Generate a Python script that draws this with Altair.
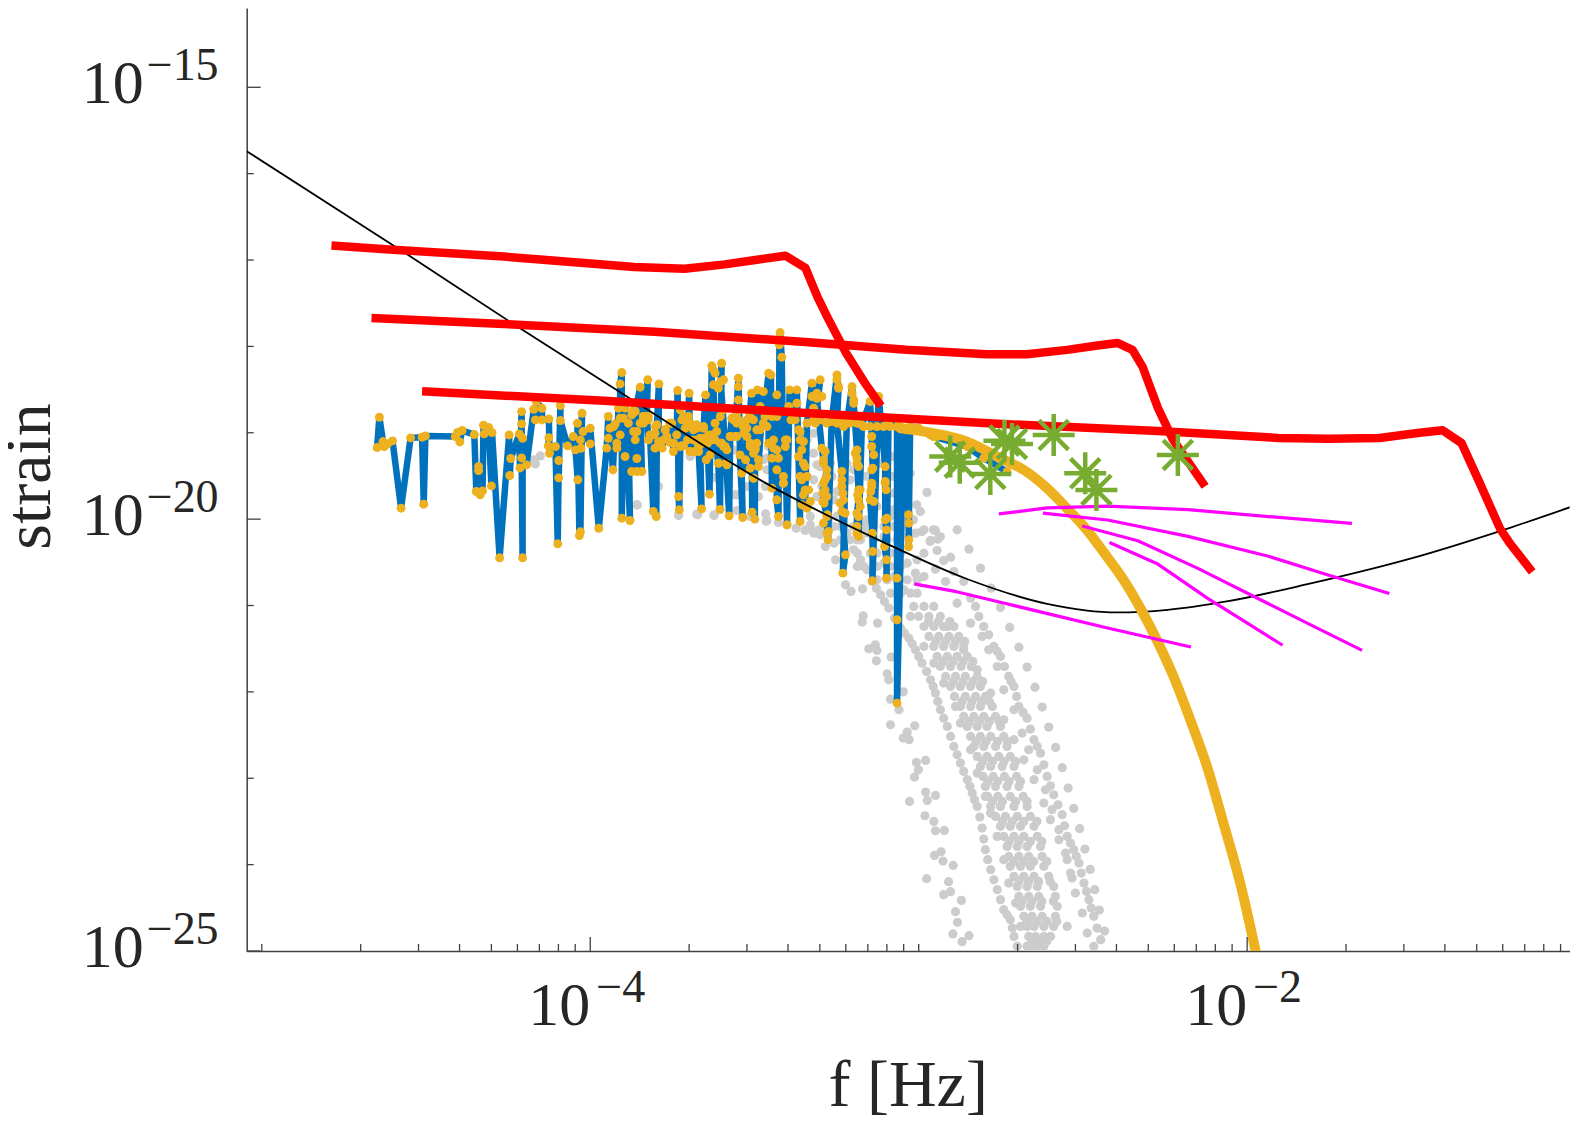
import altair as alt
import pandas as pd

# all curves as (log10 f, log10 strain)
main_points = [
    (-4.649,-19.171),(-4.642,-18.820),(-4.631,-19.102),(-4.627,-19.160),(-4.617,-19.129),(-4.602,-19.094),
    (-4.576,-19.873),(-4.547,-19.059),(-4.512,-19.051),(-4.507,-19.827),(-4.502,-19.036),(-4.411,-19.044),
    (-4.404,-18.997),(-4.397,-19.106),(-4.390,-18.974),(-4.353,-19.021),(-4.347,-19.680),(-4.340,-19.391),
    (-4.340,-19.437),(-4.335,-19.719),(-4.328,-19.673),(-4.325,-18.913),(-4.323,-19.013),(-4.309,-18.940),
    (-4.301,-19.615),(-4.299,-18.998),(-4.276,-20.448),(-4.247,-19.025),(-4.245,-19.495),(-4.242,-19.298),
    (-4.216,-19.013),(-4.214,-19.407),(-4.209,-18.755),(-4.209,-18.897),(-4.209,-19.291),(-4.206,-20.448),
    (-4.206,-19.063),(-4.194,-19.372),(-4.172,-18.728),(-4.167,-18.851),(-4.164,-18.639),(-4.147,-18.716),
    (-4.147,-18.851),(-4.126,-18.840),(-4.124,-19.237),(-4.126,-19.056),(-4.128,-19.152),(-4.106,-19.160),
    (-4.099,-20.286),(-4.096,-19.322),(-4.096,-19.522),(-4.091,-18.685),(-4.091,-18.859),(-4.069,-19.152),
    (-4.052,-19.044),(-4.045,-19.198),(-4.038,-19.545),(-4.039,-18.890),(-4.033,-20.190),(-4.030,-20.147),
    (-4.025,-18.774),(-4.030,-19.083),(-4.028,-19.179),(-4.022,-18.986),(-4.000,-19.129),(-4.000,-18.948),
    (-3.974,-20.105),(-3.950,-19.178),(-3.945,-18.812),(-3.945,-19.063),(-3.940,-18.947),(-3.931,-19.429),
    (-3.924,-18.897),(-3.919,-19.121),(-3.914,-18.715),(-3.919,-19.178),(-3.909,-19.024),(-3.909,-18.434),
    (-3.904,-18.303),(-3.904,-19.989),(-3.899,-18.831),(-3.894,-19.275),(-3.894,-18.715),(-3.879,-20.016),
    (-3.884,-18.889),(-3.874,-19.448),(-3.874,-18.793),(-3.868,-18.985),(-3.863,-19.082),(-3.858,-19.298),
    (-3.858,-19.448),(-3.863,-18.754),(-3.848,-18.472),(-3.843,-19.448),(-3.848,-18.889),(-3.838,-18.812),
    (-3.825,-18.387),(-3.828,-18.812),(-3.823,-19.082),(-3.818,-19.024),(-3.808,-19.911),(-3.803,-19.178),
    (-3.799,-19.969),(-3.797,-18.908),(-3.791,-18.434),(-3.792,-19.101),(-3.781,-19.178),(-3.772,-18.966),
    (-3.767,-19.043),(-3.757,-19.113),(-3.752,-18.889),(-3.747,-19.217),(-3.737,-19.024),(-3.734,-18.511),
    (-3.731,-19.738),(-3.729,-19.892),(-3.726,-19.159),(-3.721,-18.850),(-3.716,-19.151),(-3.711,-18.947),
    (-3.704,-19.082),(-3.701,-18.812),(-3.699,-18.542),(-3.696,-19.217),(-3.686,-18.966),(-3.681,-19.217),
    (-3.676,-18.908),(-3.671,-19.140),(-3.661,-19.881),(-3.666,-19.063),(-3.655,-18.947),(-3.649,-18.561),
    (-3.647,-19.313),(-3.643,-19.121),(-3.637,-19.711),(-3.635,-19.256),(-3.630,-18.225),(-3.630,-19.024),
    (-3.625,-18.445),(-3.620,-19.082),(-3.610,-19.352),(-3.605,-19.888),(-3.600,-18.195),(-3.603,-18.407),
    (-3.589,-19.159),(-3.586,-19.352),(-3.577,-19.962),(-3.574,-19.043),(-3.569,-18.831),(-3.559,-19.043),
    (-3.549,-18.368),(-3.544,-19.256),(-3.536,-19.981),(-3.539,-19.468),(-3.527,-19.313),(-3.523,-18.947),
    (-3.515,-18.812),(-3.509,-18.542),(-3.507,-19.919),(-3.503,-19.526),(-3.499,-20.000),(-3.498,-19.198),
    (-3.491,-18.503),(-3.488,-19.391),(-3.473,-18.522),(-3.473,-18.889),(-3.457,-18.310),(-3.457,-19.121),
    (-3.450,-18.330),(-3.447,-19.641),(-3.442,-19.178),(-3.432,-18.561),(-3.432,-19.776),(-3.427,-19.969),
    (-3.424,-17.982),(-3.422,-17.840),(-3.417,-18.125),(-3.412,-19.583),(-3.406,-19.082),(-3.401,-20.066),
    (-3.393,-18.503),(-3.389,-18.850),(-3.371,-18.503),(-3.361,-20.027),(-3.366,-18.966),(-3.361,-19.082),
    (-3.356,-19.198),(-3.351,-19.352),(-3.361,-19.506),(-3.346,-19.661),(-3.346,-19.853),(-3.340,-18.889),
    (-3.325,-18.426),(-3.320,-18.715),(-3.315,-18.889),(-3.300,-18.387),(-3.310,-18.600),(-3.295,-19.178),
    (-3.290,-19.313),(-3.280,-19.429),(-3.285,-19.545),(-3.292,-19.699),(-3.288,-19.815),(-3.280,-19.969),
    (-3.279,-20.162),(-3.276,-20.239),(-3.265,-18.870),(-3.249,-18.330),(-3.244,-18.484),(-3.249,-18.889),
    (-3.234,-19.448),(-3.234,-19.622),(-3.229,-19.776),(-3.234,-19.911),(-3.223,-20.413),(-3.231,-20.625),
    (-3.219,-18.889),(-3.203,-18.465),(-3.198,-18.658),(-3.188,-19.198),(-3.188,-19.352),(-3.183,-19.661),
    (-3.183,-19.776),(-3.188,-19.931),(-3.188,-20.085),(-3.183,-20.201),(-3.173,-18.908),(-3.148,-18.638),
    (-3.143,-19.043),(-3.140,-19.410),(-3.143,-19.622),(-3.148,-19.776),(-3.141,-20.162),(-3.140,-20.375),
    (-3.141,-20.714),(-3.122,-18.580),(-3.102,-19.391),(-3.102,-19.583),(-3.102,-20.008),(-3.098,-20.124),
    (-3.104,-20.317),(-3.098,-20.471),(-3.098,-20.683),(-3.092,-18.889),(-3.066,-18.928),(-3.066,-20.683),
    (-3.066,-21.165),(-3.066,-22.130),(-3.046,-18.947),(-3.031,-19.950),(-3.030,-20.047),(-3.030,-20.239),
    (-3.031,-20.320),(-3.026,-18.928),(-3.000,-18.947),(-2.970,-19.005),(-2.955,-19.043),(-2.853,-19.160),
    (-2.802,-19.295),(-2.731,-19.450),
]

# yellow dots that crowd the spikes between 1e-4 and 1e-3
yellow_extra = [
    (-3.929,-18.928),(-3.909,-18.831),(-3.868,-18.735),(-3.858,-18.985),(-3.838,-18.889),(-3.823,-18.812),
    (-3.803,-19.005),(-3.777,-19.082),(-3.757,-18.889),(-3.726,-18.735),(-3.716,-18.812),(-3.696,-18.889),
    (-3.686,-19.082),(-3.666,-19.140),(-3.635,-19.082),(-3.615,-18.985),(-3.600,-19.120),(-3.584,-19.198),
    (-3.564,-18.850),(-3.554,-18.889),(-3.523,-19.043),(-3.513,-19.159),(-3.503,-19.236),(-3.493,-19.120),
    (-3.483,-18.966),(-3.468,-18.812),(-3.534,-18.928),(-3.594,-18.387),(-3.620,-18.310),(-3.610,-18.484),
    (-3.625,-18.272),
    (-3.838,-18.812),(-3.823,-18.850),(-3.802,-18.928),(-3.787,-19.120),(-3.807,-19.024),(-3.772,-18.966),
    (-3.757,-18.889),(-3.746,-19.120),(-3.721,-19.151),(-3.696,-19.217),(-3.670,-19.217),(-3.716,-18.850),
    (-3.696,-18.928),(-3.675,-18.947),(-3.655,-18.928),(-3.640,-19.024),(-3.660,-19.063),(-3.630,-19.082),
    (-3.604,-19.120),(-3.594,-19.159),(-3.609,-19.352),(-3.584,-19.371),(-3.620,-18.889),(-3.604,-18.812),
    (-3.594,-18.735),(-3.574,-19.043),(-3.554,-19.043),(-3.533,-19.005),(-3.523,-18.850),(-3.503,-18.850),
    (-3.493,-18.966),(-3.513,-19.120),(-3.498,-19.178),(-3.488,-19.313),(-3.513,-19.410),(-3.503,-19.526),
    (-3.533,-18.928),(-3.549,-18.850),(-3.554,-18.773),(-3.549,-18.619),(-3.549,-18.465),(-3.483,-18.696),
    (-3.467,-18.773),(-3.447,-18.812),(-3.432,-18.812),(-3.462,-18.928),(-3.442,-19.082),(-3.432,-19.198),
    (-3.447,-19.294),(-3.427,-19.294),(-3.432,-19.429),(-3.412,-19.506),(-3.412,-19.583),(-3.406,-19.159),
    (-3.401,-19.082),(-3.376,-18.850),(-3.371,-18.658),(-3.396,-18.696),(-3.361,-18.985),(-3.351,-19.101),
    (-3.366,-19.275),(-3.346,-19.391),(-3.340,-19.506),(-3.356,-19.545),(-3.335,-19.661),(-3.351,-19.718),
    (-3.330,-19.796),(-3.340,-19.873),(-3.356,-19.834),(-3.285,-19.217),(-3.290,-19.352),(-3.280,-19.506),
    (-3.285,-19.661),(-3.290,-19.583),(-3.280,-19.738),(-3.292,-19.796),(-3.278,-19.950),(-3.290,-20.046),
    (-3.275,-20.143),(-3.234,-19.545),(-3.231,-19.699),(-3.239,-19.815),(-3.224,-19.931),(-3.193,-19.236),
    (-3.188,-19.294),(-3.183,-19.391),(-3.178,-19.661),(-3.186,-19.718),(-3.178,-19.853),(-3.183,-19.969),
    (-3.188,-20.162),(-3.143,-19.159),(-3.137,-19.255),(-3.143,-19.429),(-3.143,-19.583),(-3.146,-19.680),
    (-3.137,-19.796),(-3.102,-19.564),(-3.099,-19.661),(-3.097,-19.989),(-3.320,-18.850),(-3.300,-18.850),
    (-3.280,-18.889),(-3.259,-18.850),(-3.239,-18.850),(-3.229,-18.928),(-3.209,-18.889),(-3.188,-18.889),
    (-3.168,-18.928),(-3.148,-18.928),(-3.127,-18.928),(-3.107,-18.928),(-3.087,-18.928),(-3.056,-18.928),
    (-3.036,-18.966),(-3.016,-18.947),(-2.985,-18.985),(-2.965,-19.024),(-2.945,-19.043),(-3.325,-18.580),
    (-3.310,-18.542),(-3.249,-18.387),(-3.244,-18.465),(-3.203,-18.542),(-3.198,-18.619),(-3.295,-18.580),
]

gray_points = [
    # under the spikes
    (-4.172,-19.314),(-4.152,-19.268),(-4.167,-19.360),(-3.857,-19.835),(-3.858,-19.834),(-3.792,-19.622),
    (-3.731,-19.950),(-3.696,-19.275),(-3.676,-19.942),(-3.623,-19.950),(-3.620,-19.518),(-3.564,-19.198),
    (-3.559,-19.718),(-3.554,-19.900),(-3.523,-19.622),(-3.488,-19.738),(-3.473,-19.313),(-3.466,-19.938),
    (-3.462,-20.016),(-3.462,-19.429),(-3.457,-19.159),(-3.731,-19.958),(-3.673,-19.950),(-3.623,-19.958),
    (-3.554,-19.718),(-3.543,-19.371),(-3.464,-20.023),(-3.513,-19.969),(-3.427,-20.039),(-3.401,-20.066),
    (-3.373,-20.104),(-3.346,-20.131),(-3.320,-20.147),(-3.300,-20.181),(-3.275,-20.008),(-3.249,-19.969),
    (-3.320,-19.005),(-3.310,-19.371),(-3.320,-19.545),(-3.295,-19.622),(-3.264,-19.506),(-3.462,-19.294),
    (-3.467,-19.622),(-3.543,-19.275),(-3.249,-19.680),(-3.239,-20.085),(-3.178,-20.104),(-3.137,-20.046),
    (-3.087,-19.969),(-3.031,-20.201),(-3.066,-20.104),(-3.056,-20.162),(-3.006,-19.834),(-2.975,-19.691),
    (-2.995,-19.911),(-2.990,-20.143),(-2.955,-20.124),(-2.965,-20.259),(-2.934,-20.201),(-3.330,-19.969),
    (-3.310,-19.738),(-3.137,-19.545),(-3.077,-19.699),(-3.198,-19.429),(-3.137,-19.313),(-3.026,-19.468),
    (-3.077,-19.275),(-3.345,-20.124),(-3.319,-20.162),(-3.289,-20.047),(-3.284,-20.317),(-3.253,-20.471),
    (-3.330,-20.066),(-3.304,-20.124),(-3.258,-20.278),(-3.208,-20.239),(-3.198,-20.355),(-3.177,-20.471),
    (-3.157,-20.587),(-3.106,-20.510),(-3.076,-20.664),(-3.045,-20.818),(-3.157,-20.162),(-3.106,-20.201),
    (-3.055,-20.394),(-3.035,-20.510),(-3.005,-20.471),(-3.010,-20.162),(-2.984,-20.124),
    (-3.258,-20.085),(-3.228,-20.085),(-3.198,-20.085),(-3.167,-20.085),(-3.137,-20.085),(-3.106,-20.085),
    (-3.076,-20.085),(-3.045,-20.085),(-3.238,-20.239),(-3.177,-20.239),(-3.137,-20.239),(-3.096,-20.239),
    (-3.066,-20.239),(-3.228,-20.394),(-3.187,-20.394),(-3.147,-20.394),(-3.127,-20.394),(-3.086,-20.394),
    (-3.187,-20.548),(-3.167,-20.548),(-3.127,-20.548),(-3.086,-20.548),(-3.055,-20.548),(-3.127,-20.702),
    (-3.096,-20.702),(-3.066,-20.702),(-3.035,-20.702),(-3.005,-20.702),(-3.086,-20.857),(-3.055,-20.857),
    (-3.025,-20.857),(-3.005,-20.857),
    (-3.340,-19.082),(-3.320,-19.236),(-3.300,-19.391),(-3.269,-19.352),(-3.259,-19.776),(-3.219,-19.352),
    (-3.209,-19.545),(-3.158,-19.506),(-3.117,-19.352),(-3.077,-19.506),(-3.056,-19.661),(-3.127,-19.853),
    (-3.077,-19.892),(-3.036,-19.776),(-3.016,-20.008),(-3.158,-20.008),(-3.219,-20.162),(-3.188,-20.239),
    # scattered on the left of the bands
    (-3.223,-20.760),(-3.206,-20.837),(-3.171,-20.807),(-3.169,-21.119),(-3.172,-21.192),(-3.125,-21.204),
    (-3.152,-21.501),(-3.132,-21.455),(-3.127,-21.520),(-3.129,-21.640),(-3.084,-21.597),(-3.096,-21.790),
    (-3.091,-21.860),(-3.086,-22.084),(-3.047,-21.999),(-3.060,-22.207),(-3.086,-22.381),(-3.012,-22.392),
    (-3.035,-22.466),(-3.047,-22.535),(-3.029,-22.554),(-3.007,-22.817),(-2.979,-22.794),(-3.001,-22.902),
    (-3.013,-22.986),(-2.979,-23.160),(-2.949,-23.199),(-2.974,-23.256),(-3.028,-23.268),(-2.981,-23.434),
    (-2.954,-23.500),(-2.949,-23.608),(-2.922,-23.604),(-2.932,-23.851),(-2.952,-23.893),(-2.926,-23.959),
    (-2.895,-24.009),(-2.976,-24.163),(-2.909,-24.198),(-2.903,-24.313),(-2.924,-24.348),(-2.870,-24.414),
    (-2.888,-24.545),(-2.882,-24.668),(-2.896,-24.803),(-2.847,-24.823),(-2.868,-24.892),
    # outermost right row
    (-2.883,-20.124),(-2.847,-20.348),(-2.812,-20.567),(-2.779,-20.799),(-2.751,-21.023),(-2.723,-21.254),
    (-2.695,-21.482),(-2.670,-21.713),(-2.646,-21.945),(-2.624,-22.176),(-2.604,-22.408),(-2.583,-22.643),
    (-2.563,-22.878),(-2.545,-23.114),(-2.528,-23.349),(-2.510,-23.584),(-2.494,-23.820),(-2.478,-24.055),
    (-2.464,-24.290),(-2.450,-24.526),(-2.434,-24.769),
    (-2.949,-20.131),(-2.942,-20.232),(-2.964,-20.247),(-2.944,-20.363),(-2.984,-20.394),(-2.903,-20.440),
    (-2.924,-20.479),(-2.893,-20.606),(-2.863,-20.722),(-2.949,-20.579),(-2.918,-20.722),(-3.010,-20.625),
    (-2.984,-20.664),
    # right edge rows
    (-2.842,-20.915),(-2.817,-21.127),(-2.787,-21.339),(-2.771,-21.474),(-2.751,-21.590),(-2.726,-21.821),
    (-2.710,-21.937),(-2.695,-22.168),(-2.670,-22.304),(-2.649,-22.554),(-2.629,-22.709),(-2.609,-22.979),
    (-2.589,-23.191),(-2.563,-23.422),(-2.548,-23.673),(-2.528,-23.827),(-2.512,-23.982),(-2.497,-24.213),
    (-2.482,-24.406),(-2.467,-24.599),(-2.446,-24.869),
    (-2.827,-21.011),(-2.802,-21.243),(-2.761,-21.532),(-2.739,-21.706),(-2.719,-21.879),(-2.702,-22.053),
    (-2.682,-22.238),(-2.660,-22.431),(-2.639,-22.631),(-2.619,-22.844),(-2.599,-23.087),(-2.576,-23.307),
    (-2.556,-23.550),(-2.538,-23.750),(-2.520,-23.905),(-2.505,-24.098),(-2.489,-24.310),(-2.475,-24.503),
    (-2.457,-24.734),
    (-2.883,-20.973),(-2.842,-21.204),(-2.807,-21.358),(-2.787,-21.513),(-2.761,-21.706),(-2.741,-21.976),
    (-2.710,-22.207),(-2.685,-22.477),(-2.665,-22.670),(-2.639,-22.902),(-2.614,-23.133),(-2.594,-23.364),
    (-2.573,-23.596),(-2.553,-23.866),(-2.538,-24.098),(-2.523,-24.329),(-2.502,-24.560),(-2.487,-24.792),
    (-2.467,-24.946),
    (-2.913,-21.243),(-2.863,-21.513),(-2.822,-21.744),(-2.781,-22.014),(-2.741,-22.323),(-2.710,-22.554),
    (-2.680,-22.786),(-2.649,-23.017),(-2.619,-23.287),(-2.599,-23.480),(-2.573,-23.712),(-2.548,-23.943),
    (-2.533,-24.155),
    # left edge rows
    (-3.142,-20.722),(-3.116,-20.876),(-3.091,-21.030),(-3.055,-21.262),(-3.030,-21.378),(-3.010,-21.513),
    (-2.990,-21.667),(-2.964,-21.860),(-2.949,-22.014),(-2.934,-22.207),(-2.913,-22.400),(-2.893,-22.631),
    (-2.873,-22.824),(-2.852,-23.017),(-2.837,-23.172),(-2.822,-23.326),(-2.807,-23.577),(-2.797,-23.827),
    (-2.781,-24.059),(-2.761,-24.290),(-2.741,-24.522),(-2.721,-24.638),(-2.710,-24.831),(-2.700,-24.946),
    (-3.129,-20.799),(-3.104,-20.953),(-3.074,-21.146),(-3.043,-21.320),(-3.020,-21.443),(-3.000,-21.590),
    (-2.976,-21.763),(-2.956,-21.937),(-2.942,-22.111),(-2.924,-22.304),(-2.903,-22.516),(-2.883,-22.728),
    (-2.863,-22.921),(-2.844,-23.094),(-2.830,-23.249),(-2.814,-23.449),(-2.802,-23.704),(-2.790,-23.943),
    (-2.771,-24.175),(-2.751,-24.406),(-2.731,-24.580),(-2.715,-24.734),
    (-2.984,-21.474),(-2.954,-21.667),(-2.924,-21.898),(-2.888,-22.168),(-2.873,-22.361),(-2.842,-22.670),
    (-2.822,-22.940),(-2.797,-23.210),(-2.781,-23.403),(-2.761,-23.673),(-2.741,-23.943),(-2.726,-24.213),
    (-2.705,-24.445),(-2.690,-24.715),(-2.670,-24.946),
    # dense middle of the band
    (-3.015,-21.011),(-2.984,-21.011),(-2.954,-21.011),(-3.025,-21.127),(-3.000,-21.127),(-2.969,-21.127),
    (-2.934,-21.127),(-2.984,-21.243),(-2.954,-21.243),(-2.924,-21.243),(-2.893,-21.243),(-2.969,-21.358),
    (-2.939,-21.358),(-2.908,-21.358),(-2.878,-21.358),(-2.954,-21.474),(-2.924,-21.474),(-2.893,-21.474),
    (-2.863,-21.474),(-2.944,-21.590),(-2.913,-21.590),(-2.883,-21.590),(-2.852,-21.590),(-2.934,-21.706),
    (-2.903,-21.706),(-2.871,-21.706),(-2.840,-21.706),(-2.918,-21.821),(-2.888,-21.821),(-2.858,-21.821),
    (-2.822,-21.821),(-2.903,-21.937),(-2.873,-21.937),(-2.842,-21.937),(-2.812,-21.937),(-2.891,-22.053),
    (-2.858,-22.053),(-2.827,-22.053),(-2.797,-22.053),(-2.873,-22.168),(-2.842,-22.168),(-2.812,-22.168),
    (-2.776,-22.168),(-2.863,-22.284),(-2.832,-22.284),(-2.802,-22.284),(-2.766,-22.284),(-2.852,-22.400),
    (-2.822,-22.400),(-2.792,-22.400),(-2.751,-22.400),(-2.842,-22.516),(-2.812,-22.516),(-2.781,-22.516),
    (-2.741,-22.516),(-2.832,-22.631),(-2.802,-22.631),(-2.766,-22.631),(-2.731,-22.631),(-2.822,-22.747),
    (-2.792,-22.747),(-2.756,-22.747),(-2.721,-22.747),(-2.812,-22.863),(-2.781,-22.863),(-2.746,-22.863),
    (-2.710,-22.863),(-2.804,-22.979),(-2.773,-22.979),(-2.739,-22.979),(-2.702,-22.979),(-2.797,-23.094),
    (-2.766,-23.094),(-2.731,-23.094),(-2.695,-23.094),(-2.790,-23.210),(-2.759,-23.210),(-2.721,-23.210),
    (-2.682,-23.210),(-2.781,-23.326),(-2.751,-23.326),(-2.710,-23.326),(-2.670,-23.326),(-2.766,-23.442),
    (-2.736,-23.442),(-2.700,-23.442),(-2.660,-23.442),(-2.751,-23.557),(-2.721,-23.557),(-2.690,-23.557),
    (-2.649,-23.557),(-2.741,-23.673),(-2.710,-23.673),(-2.680,-23.673),(-2.639,-23.673),(-2.731,-23.789),
    (-2.700,-23.789),(-2.670,-23.789),(-2.629,-23.789),(-2.726,-23.905),(-2.695,-23.905),(-2.665,-23.905),
    (-2.624,-23.905),(-2.721,-24.020),(-2.690,-24.020),(-2.660,-24.020),(-2.619,-24.020),(-2.710,-24.136),
    (-2.680,-24.136),(-2.649,-24.136),(-2.604,-24.136),(-2.700,-24.252),(-2.670,-24.252),(-2.639,-24.252),
    (-2.589,-24.252),(-2.695,-24.368),(-2.665,-24.368),(-2.634,-24.368),(-2.584,-24.368),(-2.690,-24.483),
    (-2.660,-24.483),(-2.629,-24.483),(-2.578,-24.483),(-2.680,-24.599),(-2.655,-24.599),(-2.624,-24.599),
    (-2.584,-24.599),(-2.670,-24.715),(-2.649,-24.715),(-2.619,-24.715),(-2.589,-24.715),(-2.548,-24.715),
    (-2.665,-24.831),(-2.644,-24.831),(-2.619,-24.831),(-2.599,-24.831),(-2.660,-24.946),(-2.639,-24.946),
    (-2.619,-24.946),
    (-2.970,-21.185),(-2.940,-21.185),(-2.905,-21.185),(-2.948,-21.416),(-2.918,-21.416),(-2.888,-21.416),
    (-2.860,-21.416),(-2.925,-21.648),(-2.895,-21.648),(-2.865,-21.648),(-2.835,-21.648),(-2.895,-21.879),
    (-2.865,-21.879),(-2.835,-21.879),(-2.805,-21.879),(-2.868,-22.111),(-2.838,-22.111),(-2.808,-22.111),
    (-2.785,-22.111),(-2.845,-22.342),(-2.815,-22.342),(-2.785,-22.342),(-2.755,-22.342),(-2.825,-22.574),
    (-2.795,-22.574),(-2.760,-22.574),(-2.730,-22.574),(-2.805,-22.805),(-2.775,-22.805),(-2.740,-22.805),
    (-2.705,-22.805),(-2.790,-23.037),(-2.760,-23.037),(-2.725,-23.037),(-2.690,-23.037),(-2.775,-23.268),
    (-2.745,-23.268),(-2.705,-23.268),(-2.670,-23.268),(-2.745,-23.500),(-2.715,-23.500),(-2.680,-23.500),
    (-2.640,-23.500),(-2.725,-23.731),(-2.695,-23.731),(-2.660,-23.731),(-2.625,-23.731),(-2.710,-23.963),
    (-2.680,-23.963),(-2.650,-23.963),(-2.610,-23.963),(-2.695,-24.194),(-2.665,-24.194),(-2.635,-24.194),
    (-2.600,-24.194),(-2.685,-24.425),(-2.655,-24.425),(-2.625,-24.425),(-2.590,-24.425),(-2.670,-24.657),
    (-2.640,-24.657),(-2.610,-24.657),(-2.580,-24.657),(-2.655,-24.888),(-2.630,-24.888),(-2.610,-24.888),
]

yellow_curve = [
    (-3.056,-18.948),(-2.954,-19.006),(-2.853,-19.102),
    (-2.751,-19.295),(-2.680,-19.430),(-2.609,-19.643),(-2.549,-19.874),(-2.488,-20.125),(-2.427,-20.434),
    (-2.376,-20.704),(-2.325,-21.032),(-2.275,-21.399),(-2.224,-21.824),(-2.173,-22.325),(-2.122,-22.866),
    (-2.072,-23.522),(-2.021,-24.216),(-1.975,-24.988),
]

red_curves = [
    [(-4.788,-16.833),(-4.601,-16.880),(-4.264,-16.960),(-3.866,-17.080),(-3.713,-17.100),(-3.590,-17.050),
     (-3.498,-17.000),(-3.406,-16.950),(-3.345,-17.090),(-3.308,-17.430),(-3.277,-17.670),(-3.222,-18.070),
     (-3.161,-18.440),(-3.115,-18.690)],
    [(-4.666,-17.670),(-4.264,-17.740),(-3.804,-17.830),(-3.345,-17.950),(-3.038,-18.040),(-2.793,-18.090),
     (-2.671,-18.090),(-2.548,-18.040),(-2.456,-17.990),(-2.395,-17.960),(-2.349,-18.040),(-2.318,-18.240),
     (-2.272,-18.710),(-2.226,-19.080),(-2.128,-19.620)],
    [(-4.512,-18.520),(-3.958,-18.630),(-3.345,-18.770),(-2.732,-18.900),(-2.272,-18.980),(-1.905,-19.060),
     (-1.751,-19.070),(-1.597,-19.060),(-1.475,-19.000),(-1.405,-18.970),(-1.347,-19.120),(-1.292,-19.580),
     (-1.230,-20.110),(-1.200,-20.280),(-1.132,-20.610)],
]

black_curve = [
    (-5.046,-15.740),(-4.571,-16.900),(-4.234,-17.740),(-3.835,-18.710),(-3.467,-19.580),(-3.100,-20.280),
    (-2.855,-20.690),(-2.609,-20.980),(-2.395,-21.080),(-2.242,-21.050),(-2.058,-20.950),(-1.813,-20.750),
    (-1.506,-20.460),(-1.200,-20.100),(-1.000,-19.840),
]

magenta_curves = [
    [(-3.014,-20.750),(-2.885,-20.840),(-2.732,-20.980),(-2.579,-21.120),(-2.425,-21.260),(-2.171,-21.480)],
    [(-2.756,-19.940),(-2.609,-19.870),(-2.425,-19.850),(-2.180,-19.890),(-1.935,-19.970),(-1.681,-20.050)],
    [(-2.622,-19.930),(-2.425,-20.010),(-2.180,-20.200),(-1.935,-20.430),(-1.751,-20.650),(-1.567,-20.860)],
    [(-2.502,-20.080),(-2.333,-20.250),(-2.150,-20.570),(-1.935,-20.980),(-1.782,-21.270),(-1.650,-21.520)],
    [(-2.419,-20.270),(-2.272,-20.520),(-2.119,-20.920),(-1.997,-21.210),(-1.892,-21.460)],
]

green_stars = [
    (-2.904,-19.276),(-2.875,-19.346),(-2.782,-19.477),(-2.739,-19.091),(-2.716,-19.129),
    (-2.589,-19.025),(-2.493,-19.469),(-2.459,-19.662),(-2.211,-19.257),
]

x_major = [1e-4, 1e-2]
x_minor = [m * 10.0 ** k for k in (-5, -4, -3, -2) for m in (2, 3, 4, 5, 6, 7, 8, 9)] + [1e-5, 1e-3]
y_major = [1e-15, 1e-20, 1e-25]
y_minor = [1e-16, 1e-17, 1e-18, 1e-19, 1e-21, 1e-22, 1e-23, 1e-24]
x_exponents = ["−4", "−2"]
y_exponents = ["−15", "−20", "−25"]

AXIS_COLOR = "#404040"
TEXT_COLOR = "#262626"
FONT = "Liberation Serif"
WIDTH = 1323
HEIGHT = 943

x_scale = alt.Scale(type="log", domain=[10 ** -5.046, 10 ** -1.018], nice=False)
y_scale = alt.Scale(type="log", domain=[1e-25, 10 ** -14.082], nice=False)

x_axis = alt.Axis(
    title="f [Hz]", titleFont=FONT, titleFontSize=66, titleFontWeight="normal", titleColor=TEXT_COLOR,
    titleX=661, titleY=155, titleAlign="center", titleBaseline="alphabetic",
    labels=False, ticks=False, grid=False, domainColor=AXIS_COLOR, domainWidth=1.5,
)
y_axis = alt.Axis(
    title="strain", titleFont=FONT, titleFontSize=66, titleFontWeight="normal", titleColor=TEXT_COLOR,
    titleX=-197, titleY=468, titleAngle=270, titleAlign="center", titleBaseline="alphabetic",
    labels=False, ticks=False, grid=False, domainColor=AXIS_COLOR, domainWidth=1.5,
)
x_enc = alt.X("f:Q", scale=x_scale, axis=x_axis)
y_enc = alt.Y("h:Q", scale=y_scale, axis=y_axis)


def frame(points):
    return pd.DataFrame({
        "f": [10 ** p[0] for p in points],
        "h": [10 ** p[1] for p in points],
        "i": list(range(len(points))),
    })


def line(points, color, width, **kw):
    return alt.Chart(frame(points)).mark_line(
        color=color, strokeWidth=width, clip=True, strokeJoin="round", **kw
    ).encode(x=x_enc, y=y_enc, order="i:Q")


def dots(points, color, size):
    return alt.Chart(frame(points)).mark_circle(
        color=color, size=size, opacity=1, clip=True
    ).encode(x=x_enc, y=y_enc)


def x_ticks(values, length):
    return alt.Chart(pd.DataFrame({"f": values})).mark_rule(color=AXIS_COLOR, strokeWidth=1.3).encode(
        x=x_enc,
        y=alt.value(HEIGHT),
        y2=alt.value(HEIGHT - length),
    )


def y_ticks(values, length):
    return alt.Chart(pd.DataFrame({"h": values})).mark_rule(color=AXIS_COLOR, strokeWidth=1.3).encode(
        y=y_enc,
        x=alt.value(0),
        x2=alt.value(length),
    )


x_labels = pd.DataFrame({"f": x_major, "base": ["10"] * 2, "exp": x_exponents})
y_labels = pd.DataFrame({"h": y_major, "base": ["10"] * 3, "exp": y_exponents})

x_base = alt.Chart(x_labels).mark_text(
    font=FONT, fontSize=62, color=TEXT_COLOR, align="right", baseline="alphabetic"
).encode(x=x_enc, y=alt.value(HEIGHT + 74), text="base:N")
x_exp = alt.Chart(x_labels).mark_text(
    font=FONT, fontSize=46, color=TEXT_COLOR, align="left", baseline="alphabetic", dx=6
).encode(x=x_enc, y=alt.value(HEIGHT + 51), text="exp:N")
y_base = alt.Chart(y_labels).mark_text(
    font=FONT, fontSize=62, color=TEXT_COLOR, align="left", baseline="alphabetic", dy=16
).encode(y=y_enc, x=alt.value(-165), text="base:N")
y_exp = alt.Chart(y_labels).mark_text(
    font=FONT, fontSize=46, color=TEXT_COLOR, align="left", baseline="alphabetic", dy=-7
).encode(y=y_enc, x=alt.value(-100), text="exp:N")

STAR = "M-1,0L1,0M0,-1L0,1M-0.7,-0.7L0.7,0.7M-0.7,0.7L0.7,-0.7"
stars = alt.Chart(frame(green_stars)).mark_point(
    shape=STAR, size=1764, filled=False, stroke="#77AC30", strokeWidth=4.5, opacity=1, clip=True
).encode(x=x_enc, y=y_enc)

layers = [
    dots(gray_points, "#CCCCCC", 85),
    line(main_points, "#0072BD", 6.5),
    dots(main_points, "#EDB120", 80),
    dots(yellow_extra, "#EDB120", 80),
    line(black_curve, "black", 1.8, interpolate="monotone"),
    line(yellow_curve, "#EDB120", 10, interpolate="monotone", strokeCap="round"),
    line(magenta_curves[0], "#FF00FF", 3.2),
    line(magenta_curves[1], "#FF00FF", 3.2),
    line(magenta_curves[2], "#FF00FF", 3.2),
    line(magenta_curves[3], "#FF00FF", 3.2),
    line(magenta_curves[4], "#FF00FF", 3.2),
    line(red_curves[0], "#FF0000", 8.5),
    line(red_curves[1], "#FF0000", 8.5),
    line(red_curves[2], "#FF0000", 8.5),
    stars,
    x_ticks(x_minor, 7),
    x_ticks(x_major, 14),
    y_ticks(y_minor, 7),
    y_ticks(y_major, 14),
    x_base,
    x_exp,
    y_base,
    y_exp,
]

chart = alt.layer(*layers).properties(
    width=WIDTH,
    height=HEIGHT,
    autosize=alt.AutoSizeParams(type="none"),
    padding={"left": 238.7, "top": 0, "right": 0, "bottom": 170},
).configure_view(strokeWidth=0)

chart.save("out.html", embed_options={"renderer": "svg", "actions": False})
